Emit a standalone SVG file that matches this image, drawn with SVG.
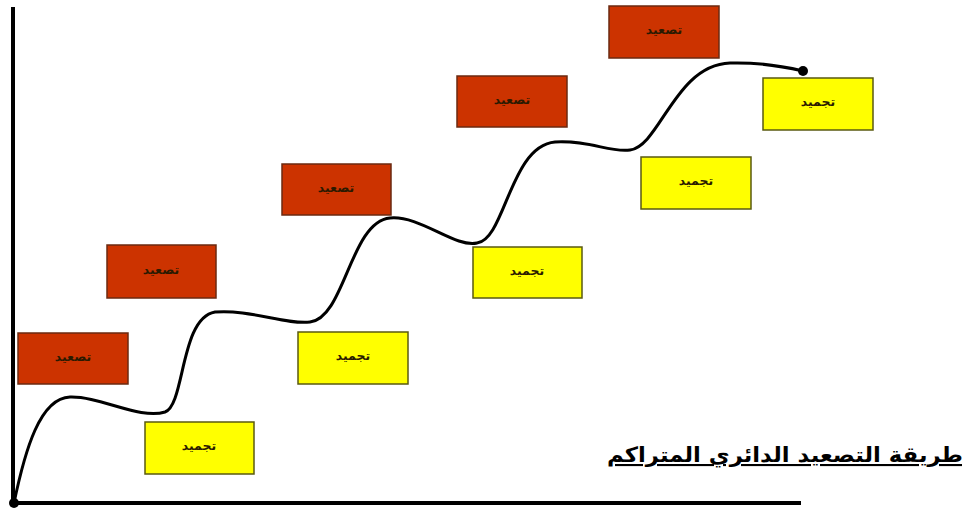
<svg xmlns="http://www.w3.org/2000/svg" width="962" height="508" viewBox="0 0 962 508">
<style>
.red rect{fill:#cc3300;stroke:#6b2a10;stroke-width:1.5}
.yel rect{fill:#ffff00;stroke:#5a5a10;stroke-width:1.5}
.lbl{font-family:"DejaVu Sans",sans-serif;font-size:12.5px;font-weight:bold;fill:#2a1a00;text-anchor:middle}
.axis{stroke:#000;stroke-width:4;fill:none}
.curve{stroke:#000;stroke-width:3;fill:none}
.title{font-family:"DejaVu Sans",sans-serif;font-size:21px;font-weight:bold;fill:#000;text-anchor:middle;text-decoration:underline}
</style>
<rect width="962" height="508" fill="#fff"/>
<g id="nodes">
<g id="r1" class="red"><rect x="18" y="333" width="110" height="51"/><text class="lbl" x="73" y="361">تصعيد</text></g>
<g id="r2" class="red"><rect x="107" y="245" width="109" height="53"/><text class="lbl" x="161" y="274">تصعيد</text></g>
<g id="r3" class="red"><rect x="282" y="164" width="109" height="51"/><text class="lbl" x="336" y="192">تصعيد</text></g>
<g id="r4" class="red"><rect x="457" y="76" width="110" height="51"/><text class="lbl" x="512" y="104">تصعيد</text></g>
<g id="r5" class="red"><rect x="609" y="6" width="110" height="52"/><text class="lbl" x="664" y="34">تصعيد</text></g>
<g id="y1" class="yel"><rect x="145" y="422" width="109" height="52"/><text class="lbl" x="199" y="450">تجميد</text></g>
<g id="y2" class="yel"><rect x="298" y="332" width="110" height="52"/><text class="lbl" x="353" y="360">تجميد</text></g>
<g id="y3" class="yel"><rect x="473" y="247" width="109" height="51"/><text class="lbl" x="527" y="275">تجميد</text></g>
<g id="y4" class="yel"><rect x="641" y="157" width="110" height="52"/><text class="lbl" x="696" y="185">تجميد</text></g>
<g id="y5" class="yel"><rect x="763" y="78" width="110" height="52"/><text class="lbl" x="818" y="106">تجميد</text></g>
</g>
<g id="connectors">
<line class="axis" x1="13" y1="7" x2="13" y2="505"/>
<line class="axis" x1="11" y1="503" x2="801" y2="503"/>
<path class="curve" d="M14 503 C25 450 40 398 70 397 C100 396 140 420 165 412 C185 405 180 318 215 312 C250 309 285 325 310 322 C345 318 350 222 390 218 C420 215 455 248 477 243 C505 240 510 146 555 142 C590 140 610 153 630 150 C660 146 675 65 730 63 C760 62 790 68 803 71"/>
<circle cx="14" cy="503" r="5" fill="#000"/>
<circle cx="803" cy="71" r="5" fill="#000"/>
</g>
<text class="title" x="785" y="462" textLength="356" lengthAdjust="spacingAndGlyphs">طريقة التصعيد الدائري المتراكم</text>
</svg>
